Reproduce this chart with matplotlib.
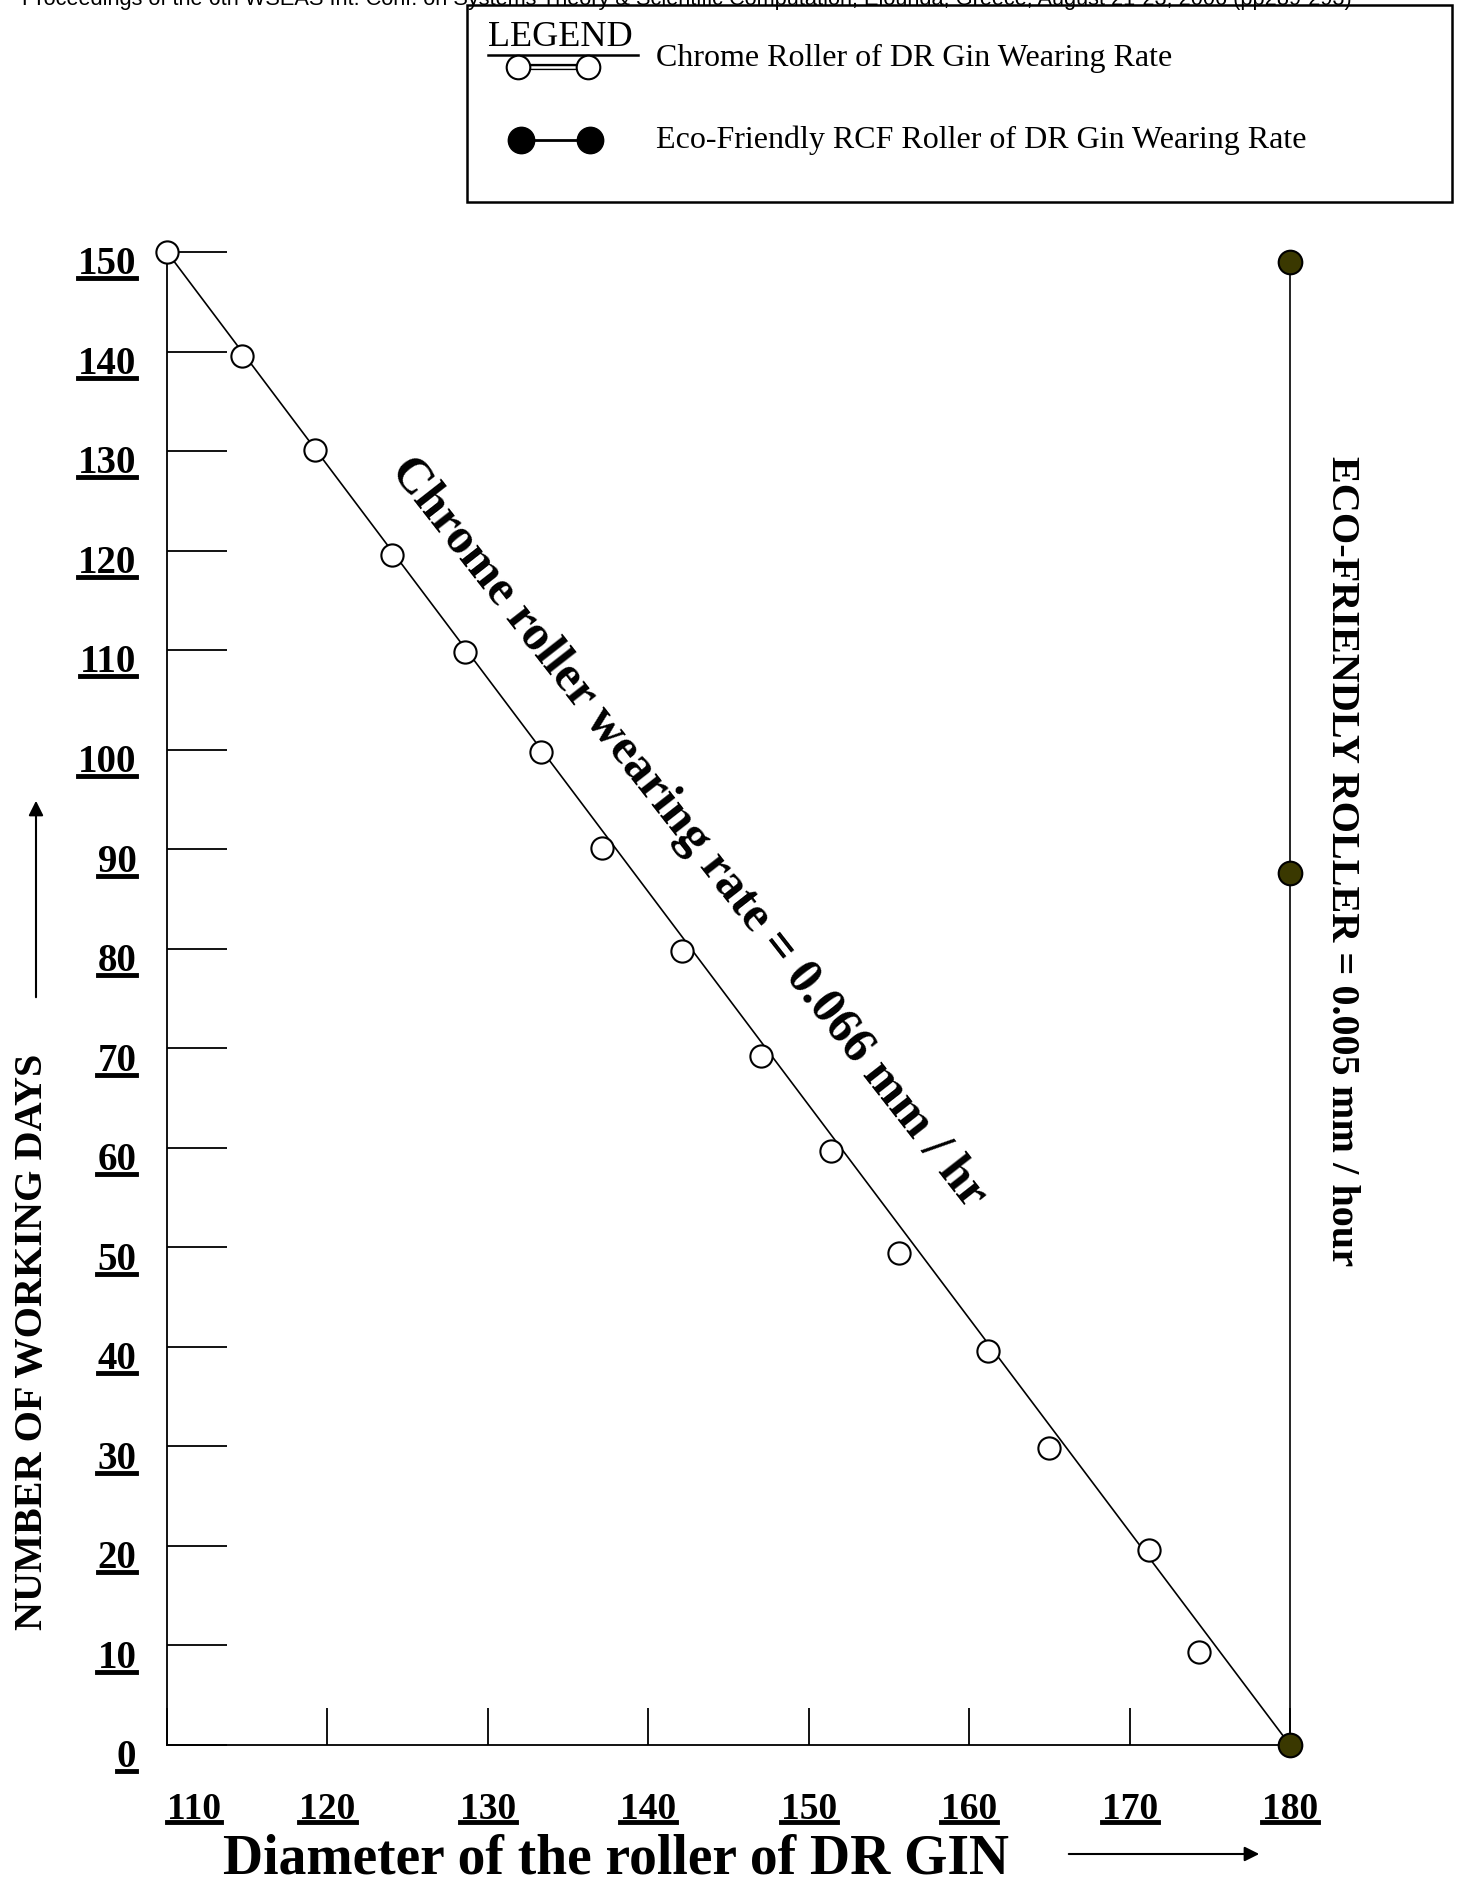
import numpy as np
import matplotlib
matplotlib.use('Agg')
import matplotlib.pyplot as plt
import matplotlib.transforms as mtransforms
from matplotlib.lines import Line2D
from matplotlib.patches import Rectangle

plt.rcParams['font.family'] = ['Liberation Serif', 'DejaVu Serif']

# data
chrome_x = [110, 114.7, 119.2, 124.0, 128.6, 133.3, 137.1, 142.1, 147.0, 151.4,
            155.6, 161.2, 165.0, 171.2, 174.3, 180]
chrome_y = [150, 139.6, 130.1, 119.6, 109.8, 99.8, 90.1, 79.8, 69.2, 59.7,
            49.4, 39.6, 29.8, 19.6, 9.3, 0]
eco_x = [180, 180, 180]
eco_y = [149, 87.6, 0]

xticks = [110, 120, 130, 140, 150, 160, 170, 180]
yticks = [0, 10, 20, 30, 40, 50, 60, 70, 80, 90, 100, 110, 120, 130, 140, 150]

W, H = 1464, 1888
fig = plt.figure(figsize=(W / 100, H / 100), dpi=100)


def fx(px):
    return px / W


def fy(py):
    return 1 - py / H


ax = fig.add_axes([fx(167), fy(1745), fx(1290) - fx(167), fy(252) - fy(1745)])
ax.set_xlim(110, 180)
ax.set_ylim(0, 150)
ax.patch.set_visible(False)
for s in ['top', 'right']:
    ax.spines[s].set_visible(False)
for s in ['left', 'bottom']:
    ax.spines[s].set_linewidth(1.3)

ax.set_xticks(xticks)
ax.set_yticks(yticks)
ax.set_xticklabels([str(v) for v in xticks], fontsize=27, fontweight='bold')
ax.set_yticklabels([str(v) for v in yticks], fontsize=28, fontweight='bold')
ax.tick_params(axis='y', direction='in', length=43, width=1.3, pad=22)
ax.tick_params(axis='x', direction='in', length=27, width=1.3, pad=34)

# chrome roller: straight trend line end to end, measured points on top
ax.plot([chrome_x[0], chrome_x[-1]], [chrome_y[0], chrome_y[-1]], color='black',
        lw=1.2, clip_on=False, zorder=2)
ax.plot(chrome_x[:-1], chrome_y[:-1], ls='none', marker='o', ms=16,
        mfc='white', mec='black', mew=1.5, clip_on=False, zorder=3)
# eco-friendly roller
ax.plot(eco_x, eco_y, color='black', lw=1.2, marker='o', ms=17,
        mfc='#3a3800', mec='black', mew=1.5, clip_on=False, zorder=4)

# annotations
fig.text(fx(688), fy(833), 'Chrome roller wearing rate = 0.066 mm / hr',
         fontsize=36, fontweight='bold', rotation=-52, rotation_mode='anchor',
         ha='center', va='center')
fig.text(fx(1342), fy(861), 'ECO-FRIENDLY ROLLER = 0.005 mm / hour',
         fontsize=29, fontweight='bold', rotation=-90, ha='center', va='center')

# axis labels
fig.text(fx(33), fy(1342), 'NUMBER OF WORKING DAYS', fontsize=29,
         fontweight='bold', rotation=90, ha='center', va='center')
ax.annotate('', xy=(fx(36), fy(798)), xytext=(fx(36), fy(1000)),
            xycoords='figure fraction', textcoords='figure fraction',
            arrowprops=dict(arrowstyle='-|>', color='black', lw=1.5,
                            mutation_scale=22))
fig.text(fx(223), fy(1860), 'Diameter of the roller of DR GIN', fontsize=40,
         fontweight='bold', ha='left', va='center')
ax.annotate('', xy=(fx(1262), fy(1854)), xytext=(fx(1066), fy(1854)),
            xycoords='figure fraction', textcoords='figure fraction',
            arrowprops=dict(arrowstyle='-|>', color='black', lw=1.5,
                            mutation_scale=22))

# header (cut at the top of the page)
fig.text(fx(22), fy(5), 'Proceedings of the 6th WSEAS Int. Conf. on Systems Theory & '
         'Scientific Computation, Elounda, Greece, August 21-23, 2006 (pp289-293)',
         family='Liberation Sans', fontsize=15.7, ha='left', va='baseline')

# legend box
fig.add_artist(Rectangle((fx(467), fy(202)), fx(1452) - fx(467), fy(5) - fy(202),
                         transform=fig.transFigure, fill=False, lw=1.8,
                         edgecolor='black'))
fig.text(fx(488), fy(38), 'LEGEND', fontsize=26, ha='left', va='center')
fig.add_artist(Line2D([fx(488), fx(638)], [fy(55), fy(55)], transform=fig.transFigure,
                      color='black', lw=1.8))
fig.add_artist(Line2D([fx(518), fx(588)], [fy(67), fy(67)], transform=fig.transFigure,
                      color='black', lw=4.5))
fig.add_artist(Line2D([fx(518), fx(588)], [fy(67), fy(67)], transform=fig.transFigure,
                      color='white', lw=1.8, marker='o', ms=17, mfc='white',
                      mec='black', mew=1.5))
fig.text(fx(656), fy(58), 'Chrome Roller of DR Gin Wearing Rate', fontsize=23,
         ha='left', va='center')
fig.add_artist(Line2D([fx(521), fx(590)], [fy(140), fy(140)], transform=fig.transFigure,
                      color='black', lw=2, marker='o', ms=19, mfc='black',
                      mec='black'))
fig.text(fx(656), fy(140), 'Eco-Friendly RCF Roller of DR Gin Wearing Rate',
         fontsize=23, ha='left', va='center')

# labels sit a little below their ticks in the original; first x label is right of its tick
fig.canvas.draw()
shift = mtransforms.ScaledTranslation(0, -6 / 72, fig.dpi_scale_trans)
for lbl in ax.get_yticklabels():
    lbl.set_transform(lbl.get_transform() + shift)
ax.get_xticklabels()[0].set_horizontalalignment('left')

# underline tick labels
fig.canvas.draw()
r = fig.canvas.get_renderer()
for lbl in ax.get_xticklabels() + ax.get_yticklabels():
    bb = lbl.get_window_extent(r)
    yy = bb.y0 + 5
    fig.add_artist(Line2D([bb.x0 / W, bb.x1 / W], [yy / H, yy / H],
                          transform=fig.transFigure, color='black', lw=3.5))

fig.savefig('out.png', dpi=100)
